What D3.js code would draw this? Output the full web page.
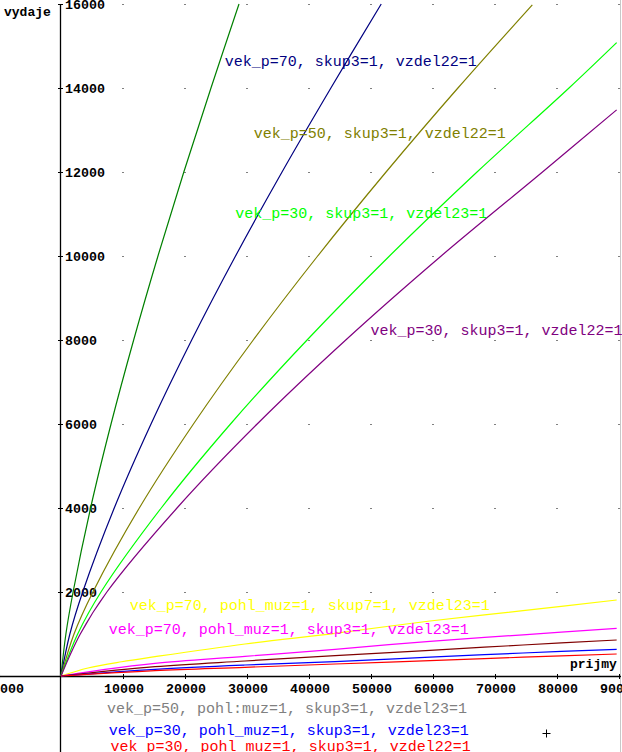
<!DOCTYPE html>
<html><head><meta charset="utf-8">
<script src="https://cdn.jsdelivr.net/npm/d3@7"></script>
<style>
html,body{margin:0;padding:0;background:#fff;overflow:hidden}
svg{display:block}
</style></head>
<body>
<script>
// ---- data ----
const xTicks = [-10000, 10000, 20000, 30000, 40000, 50000, 60000, 70000, 80000, 90000];
const yTicks = [2000, 4000, 6000, 8000, 10000, 12000, 14000, 16000];
const gridX = [10000, 20000, 30000, 40000, 50000, 60000, 70000, 80000, 90000];

const greenX  = [0, 790, 1950, 4770, 8070, 11720, 15640, 19810, 24190, 28710];
const greenY  = [0, 1000, 2000, 4000, 6000, 8000, 10000, 12000, 14000, 16000];
const navyX   = [0, 1430, 3500, 8590, 14520, 21080, 28150, 35650, 43530, 51650];
const navyY   = [0, 1000, 2000, 4000, 6000, 8000, 10000, 12000, 14000, 16000];
const oliveX  = [0, 2100, 5150, 12630, 21360, 31010, 41400, 52430, 64020, 76020];
const oliveY  = [0, 1000, 2000, 4000, 6000, 8000, 10000, 12000, 14000, 15980];
const limeX   = [0, 2690, 6450, 16170, 27340, 39690, 52980, 67100, 81940, 89620];
const limeY   = [0, 1000, 2000, 4000, 6000, 8000, 10000, 12000, 14000, 15080];
const purpleX = [0, 3110, 7400, 18710, 31640, 45930, 61320, 77660, 89620];
const purpleY = [0, 1000, 2000, 4000, 6000, 8000, 10000, 12000, 13480];

const yellowX  = [0, 4355, 9790, 15161, 29677, 44194, 59516, 74516, 89624];
const yellowY  = [0, 190, 340, 460, 762, 1016, 1310, 1556, 1810];
const magentaX = [0, 7097, 15161, 29677, 44194, 59516, 74516, 89624];
const magentaY = [0, 159, 302, 468, 635, 826, 980, 1135];
const maroonX  = [0, 15161, 29677, 44194, 59516, 74516, 89624];
const maroonY  = [0, 222, 357, 484, 611, 738, 857];
const blueX    = [0, 15161, 29677, 44194, 59516, 74516, 89624];
const blueY    = [0, 159, 262, 341, 448, 548, 635];
const redX     = [0, 15161, 29677, 44194, 59516, 74516, 89624];
const redY     = [0, 127, 206, 286, 365, 448, 524];

const seriesColors = ["#008000", "#000080", "#808000", "#00ff00", "#800080",
                      "#ffff00", "#ff00ff", "#800000", "#0000ff", "#ff0000"];

const labelTexts = [
  "vek_p=70, skup3=1, vzdel22=1",
  "vek_p=50, skup3=1, vzdel22=1",
  "vek_p=30, skup3=1, vzdel23=1",
  "vek_p=30, skup3=1, vzdel22=1",
  "vek_p=70, pohl_muz=1, skup7=1, vzdel23=1",
  "vek_p=70, pohl_muz=1, skup3=1, vzdel23=1",
  "vek_p=50, pohl:muz=1, skup3=1, vzdel23=1",
  "vek_p=30, pohl_muz=1, skup3=1, vzdel23=1",
  "vek_p=30, pohl_muz=1, skup3=1, vzdel22=1"
];
const labelColors = ["#000080", "#808000", "#00ff00", "#800080",
                     "#ffff00", "#ff00ff", "#808080", "#0000ff", "#ff0000"];
// label anchor in data units (x start, baseline y)
const labelX = [26400, 31100, 28100, 49900, 11100, 7700, 7400, 7700, 8000];
const labelY = [14520, 12810, 10900, 8120, 1560, 1000, -880, -1400, -1790];

// ---- drawing ----
const W = 622, H = 752;
const svg = d3.select("body").append("svg").attr("width", W).attr("height", H);

const x = d3.scaleLinear().domain([0, 90000]).range([61, 619]);
const y = d3.scaleLinear().domain([0, 16000]).range([676, 4]);

const mono = "'Liberation Mono','DejaVu Sans Mono',monospace";

// right border line
svg.append("line").attr("x1", 620.5).attr("x2", 620.5).attr("y1", 0).attr("y2", H)
  .attr("stroke", "#c8c8c8").attr("stroke-width", 1);

// grid dots
const dots = [];
gridX.forEach(gx => yTicks.forEach(gy => dots.push([gx, gy])));
svg.append("g").selectAll("rect").data(dots).join("rect")
  .attr("x", d => Math.round(x(d[0])) - 0.5).attr("y", d => Math.round(y(d[1])))
  .attr("width", 1).attr("height", 1).attr("fill", "#000");

// axes lines
svg.append("line").attr("x1", 0).attr("x2", 621).attr("y1", y(0) + 0.5).attr("y2", y(0) + 0.5)
  .attr("stroke", "#000").attr("stroke-width", 1.3);
svg.append("line").attr("x1", x(0) - 0.5).attr("x2", x(0) - 0.5).attr("y1", y(16000)).attr("y2", H)
  .attr("stroke", "#000").attr("stroke-width", 1.3);

// y ticks and labels
const gy = svg.append("g");
gy.selectAll("line").data(yTicks).join("line")
  .attr("x1", x(0) - 3).attr("x2", x(0) + 2)
  .attr("y1", d => y(d) + 0.5).attr("y2", d => y(d) + 0.5)
  .attr("stroke", "#000").attr("stroke-width", 1);
gy.selectAll("text").data(yTicks).join("text")
  .attr("x", x(0) + 4).attr("y", d => y(d) + 5)
  .attr("font-family", mono).attr("font-weight", "bold").attr("font-size", "13.3px")
  .attr("fill", "#000").text(d => d);

// x ticks and labels
const gx = svg.append("g");
gx.selectAll("line").data(xTicks).join("line")
  .attr("x1", d => x(d) + 0.5).attr("x2", d => x(d) + 0.5)
  .attr("y1", y(0) - 2).attr("y2", y(0) + 3)
  .attr("stroke", "#000").attr("stroke-width", 1);
gx.selectAll("text").data(xTicks).join("text")
  .attr("x", d => x(d) + 1).attr("y", y(0) + 17)
  .attr("text-anchor", "middle")
  .attr("font-family", mono).attr("font-weight", "bold").attr("font-size", "13.3px")
  .attr("fill", "#000").text(d => d);

// axis titles
svg.append("text").attr("x", 4).attr("y", 16)
  .attr("font-family", mono).attr("font-weight", "bold").attr("font-size", "13px")
  .attr("fill", "#000").text("vydaje");
svg.append("text").attr("x", 570).attr("y", 668)
  .attr("font-family", mono).attr("font-weight", "bold").attr("font-size", "13px")
  .attr("fill", "#000").text("prijmy");

// curves
const seriesX = [greenX, navyX, oliveX, limeX, purpleX, yellowX, magentaX, maroonX, blueX, redX];
const seriesY = [greenY, navyY, oliveY, limeY, purpleY, yellowY, magentaY, maroonY, blueY, redY];
const line = d3.line().x(d => x(d[0])).y(d => y(d[1])).curve(d3.curveCatmullRom.alpha(0.5));
const cg = svg.append("g");
seriesX.forEach((xs, i) => {
  const pts = xs.map((v, j) => [v, seriesY[i][j]]);
  cg.append("path").datum(pts).attr("d", line)
    .attr("fill", "none").attr("stroke", seriesColors[i]).attr("stroke-width", 1.2);
});

// labels
svg.append("g").selectAll("text").data(labelTexts).join("text")
  .attr("x", (d, i) => x(labelX[i])).attr("y", (d, i) => y(labelY[i]))
  .attr("font-family", mono).attr("font-size", "15px")
  .attr("fill", (d, i) => labelColors[i]).text(d => d);

// small cross marker
svg.append("path").attr("d", "M542.5,733.5H550.5M546.5,729.5V737.5")
  .attr("stroke", "#000").attr("stroke-width", 1);
</script>
</body></html>
